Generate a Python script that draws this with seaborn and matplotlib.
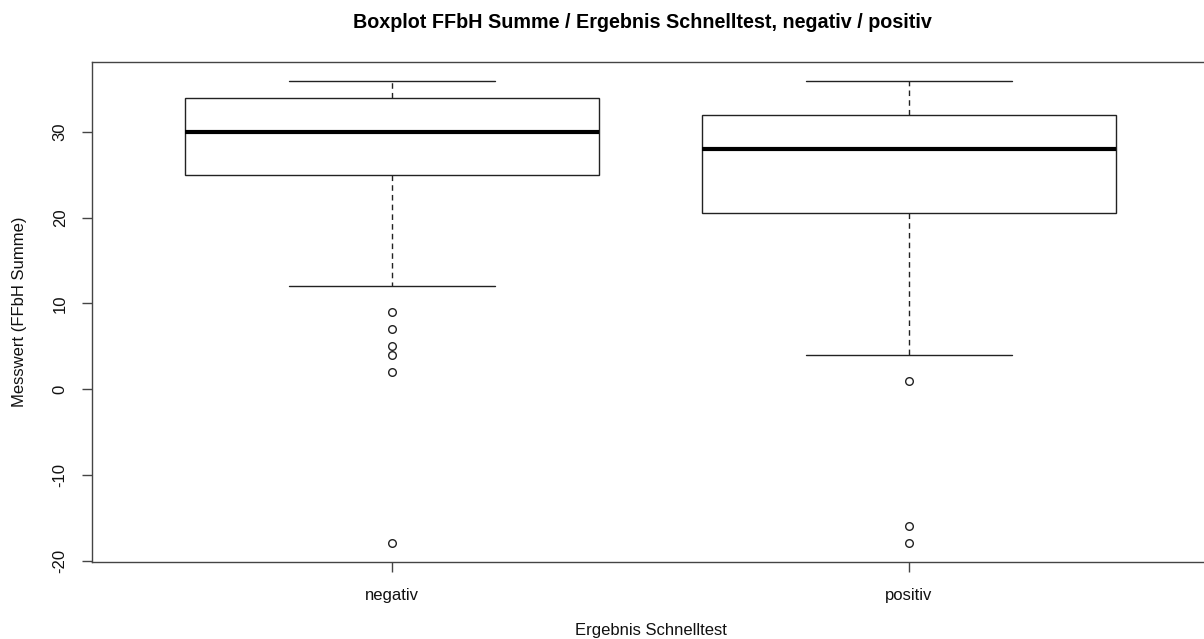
import matplotlib
matplotlib.use("Agg")
import matplotlib.pyplot as plt
import seaborn as sns
import pandas as pd

categories = ["negativ", "positiv"]

negativ_values = [-18, 2, 4, 5, 7, 9,
                  12, 16, 20, 23,
                  25,
                  25, 26, 27, 27, 28, 28, 29, 29, 30,
                  30,
                  30, 31, 31, 32, 32, 33, 33, 33, 34,
                  34,
                  34, 35, 35, 35, 36, 36, 36, 36, 36, 36]

positiv_values = [-18, -16, 1,
                  4,
                  8, 11, 14, 16, 18, 19,
                  20,
                  21,
                  22, 23, 24, 25, 25, 26, 26, 27, 27,
                  28,
                  28, 29, 29, 30, 30, 31, 31, 31, 32,
                  32,
                  32,
                  33, 33, 34, 34, 35, 35, 36, 36, 36, 36]

yticks = [-20, -10, 0, 10, 20, 30]

df = pd.DataFrame({
    "Ergebnis": [categories[0]] * len(negativ_values) + [categories[1]] * len(positiv_values),
    "Wert": negativ_values + positiv_values,
})

sns.set_style("white")
plt.rcParams["font.family"] = ["Liberation Sans", "DejaVu Sans"]

W, H = 1204, 639
fig = plt.figure(figsize=(W / 100, H / 100), dpi=100)
ax_l, ax_r, ax_t, ax_b = 92, 1209, 62, 562
ax = fig.add_axes([ax_l / W, (H - ax_b) / H, (ax_r - ax_l) / W, (ax_b - ax_t) / H])

lc = "#222222"
sns.boxplot(data=df, x="Ergebnis", y="Wert", order=categories, ax=ax,
            color="white", linecolor=lc, linewidth=1.0, width=0.8, whis=1.5,
            whiskerprops={"linestyle": (0, (4, 3)), "color": lc},
            medianprops={"linewidth": 3, "color": "black"},
            flierprops={"marker": "o", "markerfacecolor": "none",
                        "markeredgecolor": lc, "markersize": 5.5,
                        "markeredgewidth": 1.0})

ax.set_xlim(-0.58, 1.58)
ax.set_ylim(-20.16, 38.16)
ax.set_yticks(yticks)
ax.set_yticklabels([str(v) for v in yticks], rotation=90, va="center")

for s in ax.spines.values():
    s.set_color("#444444")
    s.set_linewidth(1.0)
    s.set_visible(True)

ax.tick_params(axis="both", which="both", direction="out", length=7, width=1,
               color="#444444", labelsize=12, labelcolor="#111111")
ax.tick_params(axis="y", pad=10.5, left=True)
ax.tick_params(axis="x", pad=11.5, bottom=True)

ax.set_xlabel("Ergebnis Schnelltest", fontsize=12, color="#111111", va="center")
ax.set_ylabel("Messwert (FFbH Summe)", fontsize=12, color="#111111", va="center")
ax.xaxis.set_label_coords(0.5, (ax_b - 630) / (ax_b - ax_t))
ax.yaxis.set_label_coords((20 - ax_l) / (ax_r - ax_l), 0.5)

fig.text(642 / W, 1 - 22 / H, "Boxplot FFbH Summe / Ergebnis Schnelltest, negativ / positiv",
         ha="center", va="center", fontsize=14.2, fontweight="bold", color="black")

fig.savefig("out.png", dpi=100)
